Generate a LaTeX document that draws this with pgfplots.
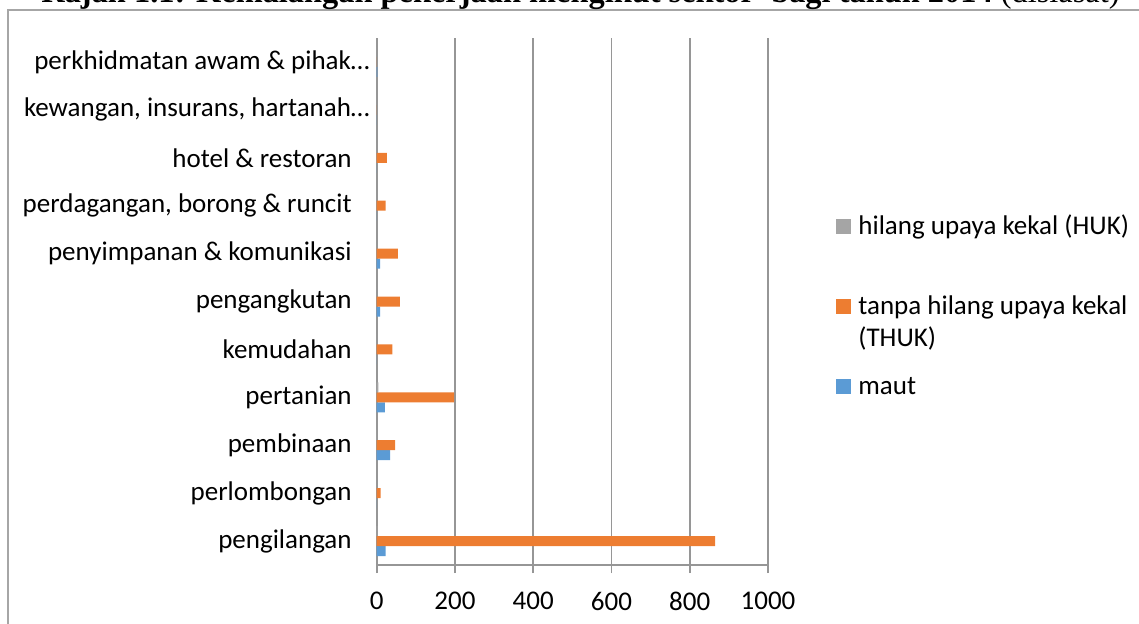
\documentclass[border=0pt]{standalone}
\usepackage{fontspec}
\setmainfont{Carlito}
\newfontfamily\titlefont{Liberation Serif}
\usepackage{pgfplots}
\pgfplotsset{compat=1.18}
\definecolor{mautblue}{HTML}{5B9BD5}
\definecolor{thukorange}{HTML}{ED7D31}
\definecolor{hukgray}{HTML}{A5A5A5}
\definecolor{gridgray}{HTML}{969696}
\definecolor{framegray}{HTML}{A6A6A6}
\begin{document}
\begin{tikzpicture}
\path[use as bounding box, clip] (0,0) rectangle (569.5pt,311.5pt);
\draw[framegray, line width=0.8pt] (4pt,-10pt) -- (4pt,306.5pt) -- (580pt,306.5pt);
\node[anchor=base west, inner sep=0pt, font=\titlefont\fontsize{16.2}{18}\selectfont] at (20.5pt,310pt)
  {\textbf{Rajah 1.1: Kemalangan pekerjaan mengikut sektor\ \ bagi tahun 2014} (disiasat)};
\begin{axis}[
  at={(188.35pt,29pt)}, anchor=south west,
  scale only axis, width=195.65pt, height=263.5pt,
  xbar, bar width=5pt,
  xmin=0, xmax=1000, ymin=-0.5, ymax=10.5,
  xtick={0,200,...,1000},
  ytick={0,...,10},
  yticklabels={pengilangan, perlombongan, pembinaan, pertanian, kemudahan, pengangkutan,
    penyimpanan \& komunikasi, {perdagangan, borong \& runcit}, hotel \& restoran,
    {kewangan, insurans, hartanah…\hspace*{-9pt}}, {perkhidmatan awam \& pihak…\hspace*{-9pt}}},
  minor ytick={-0.5,0.5,...,10.5},
  axis lines*=left,
  axis line style={gridgray, line width=0.8pt},
  tick align=outside,
  major tick length=4pt, minor tick length=4.35pt,
  every tick/.style={gridgray, line width=0.8pt},
  ytick style={draw=none},
  minor tick style={gridgray, line width=0.8pt},
  xmajorgrids,
  major grid style={gridgray, line width=0.8pt},
  /pgf/number format/assume math mode=true,
  /pgf/number format/1000 sep={},
  ticklabel style={font=\fontsize{13.5}{16}\selectfont, text=black},
  xticklabel style={yshift=-6pt},
  yticklabel style={xshift=-5pt},
  legend style={at={(axis description cs:1.1738,0.6666)}, anchor=north west, draw=none, fill=none,
    inner sep=0pt, row sep=0pt, font=\fontsize{13.5}{16}\selectfont,
    nodes={anchor=base west, inner sep=1pt, text height=9pt, text depth=29pt}},
  reverse legend,
]
\addplot[fill=mautblue, draw=none, bar shift=-5pt,
  legend image code/.code={\fill[mautblue] (0pt,0pt) rectangle (7.5pt,7.5pt);}]
  coordinates {(23,0) (0,1) (34,2) (21,3) (0,4) (9,5) (9,6) (0,7) (0,8) (0,9) (2,10)};
\addlegendentry{\hspace*{2.5pt}maut}
\addplot[fill=thukorange, draw=none, bar shift=0pt,
  legend image code/.code={\fill[thukorange] (0pt,0pt) rectangle (7.5pt,7.5pt);}]
  coordinates {(865,0) (10,1) (47,2) (198,3) (40,4) (59,5) (54,6) (23,7) (26,8) (0,9) (0,10)};
\addlegendentry{\hspace*{2.5pt}\begin{tabular}[t]{@{}l@{}}tanpa hilang upaya kekal\\(THUK)\end{tabular}}
\addplot[fill=hukgray, draw=none, bar shift=5pt,
  legend image code/.code={\fill[hukgray] (0pt,0pt) rectangle (7.5pt,7.5pt);}]
  coordinates {(2,0) (0,1) (1,2) (4,3) (0,4) (0,5) (0,6) (0,7) (0,8) (0,9) (0,10)};
\addlegendentry{\hspace*{2.5pt}hilang upaya kekal (HUK)}
\end{axis}
\end{tikzpicture}
\end{document}
